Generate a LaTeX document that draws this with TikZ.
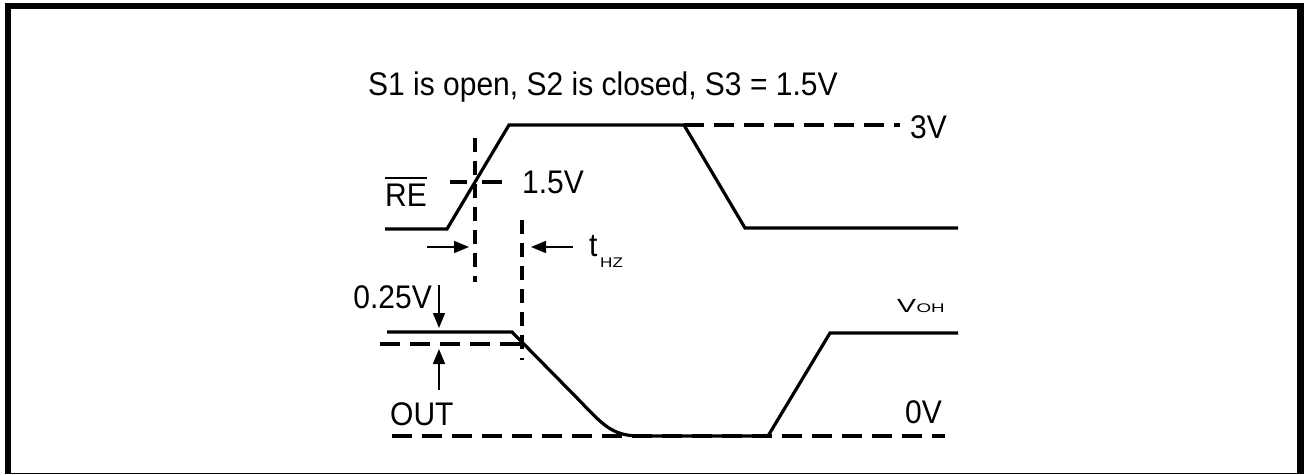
\documentclass[tikz,border=0pt]{standalone}
\usepackage{fontspec}
\usepackage{graphicx}
\setmainfont{Liberation Sans}
\usetikzlibrary{arrows.meta}
\newcommand{\talltext}[1]{\scalebox{1}[1.09]{#1}}
\newcommand{\widetext}[1]{\scalebox{1.5}[1]{#1}}
\begin{document}
\begin{tikzpicture}[x=1pt,y=-1pt,
  wave/.style={line width=3.2pt, line join=miter},
  hdash/.style={line width=3.2pt, dash pattern=on 20pt off 10pt},
  vdash/.style={line width=3.2pt, dash pattern=on 14pt off 9pt},
  arr/.style={line width=1.6pt, -{Triangle[length=15pt,width=12pt]}},
  lbl/.style={inner sep=0pt, anchor=base west, font=\fontsize{30}{30}\selectfont},
]
\useasboundingbox (0,0) rectangle (1304,474);
% frame
\fill[black] (5,3) rectangle (1304,474);
\fill[white] (11,9) rectangle (1297,473);

% title
\node[lbl, font=\fontsize{30}{30}\selectfont] (title) at (368,95) {\talltext{S1 is open, S2 is closed, S3 = 1.5V}};

% RE waveform
\draw[wave] (385,229) -- (447,229) -- (509,125) -- (684,125) -- (745,228) -- (958,228);
\draw[hdash] (684,125) -- (900,125);
\node[lbl] (v3) at (910,138) {\talltext{3V}};

% 1.5V crossing
\draw[vdash] (475,138) -- (475,282);
\draw[line width=3.2pt] (450,182) -- (467,182);
\draw[line width=3.2pt] (482,182) -- (502,182);
\node[lbl] (v15) at (522,193) {\talltext{1.5V}};
\node[lbl] (re) at (385,206) {\talltext{RE}};
\draw[line width=2.2pt] ([yshift=5pt]re.north west) -- ([yshift=5pt]re.north east);

% tHZ
\draw[vdash] (522,220) -- (522,360);
\coordinate (a1s) at (427,247);
\coordinate (a1e) at (469,247);
\draw[arr] (a1s) -- (a1e);
\coordinate (a2s) at (573,247);
\coordinate (a2e) at (531,247);
\draw[arr] (a2s) -- (a2e);
\node[lbl] (thz) at (589,256) {\talltext{t}};
\node[inner sep=0pt, anchor=base west, font=\fontsize{14}{14}\selectfont] (hz) at (600,267) {\scalebox{1.22}[1]{HZ}};

% OUT waveform
\draw[wave] (387,332) -- (512,332) -- (578,399) .. controls (603,425) and (612,436) .. (640,436) -- (768,436) -- (830,333) -- (958,333);
\draw[hdash] (380,344) -- (530,344);
\draw[hdash] (392,436) -- (945,436);

\node[lbl, anchor=base east] (v025) at (432,308) {\talltext{0.25V}};
\coordinate (b1s) at (439,285);
\coordinate (b1e) at (439,328);
\draw[arr] (b1s) -- (b1e);
\coordinate (b2s) at (439,390);
\coordinate (b2e) at (439,349);
\draw[arr] (b2s) -- (b2e);

\node[lbl] (out) at (390,425) {\talltext{OUT}};
\node[lbl] (v0) at (905,423) {\talltext{0V}};
\node[inner sep=0pt, anchor=base west, font=\fontsize{19}{19}\selectfont] (voh) at (897,312) {\widetext{V}};
\node[inner sep=0pt, anchor=base west, font=\fontsize{12.5}{12.5}\selectfont] (oh) at (voh.base east) {\widetext{OH}};
\end{tikzpicture}
\end{document}
